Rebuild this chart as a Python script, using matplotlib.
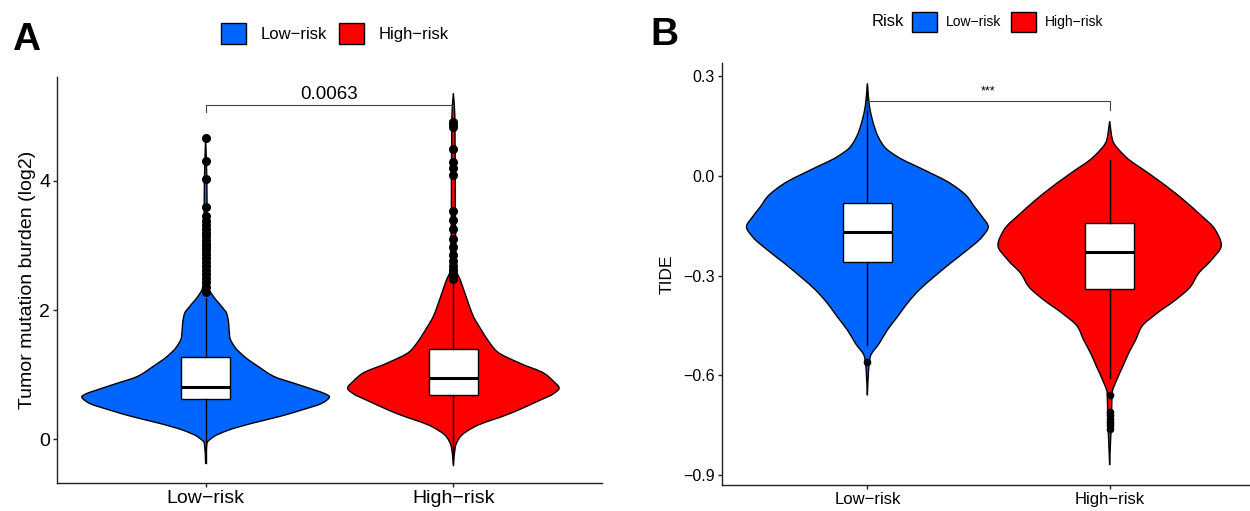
import matplotlib.pyplot as plt
from matplotlib.patches import Patch, PathPatch
from matplotlib.path import Path

plt.rcParams['font.family'] = ['Liberation Sans', 'DejaVu Sans']

groups = ['Low−risk', 'High−risk']
colors = ['#0066ff', '#ff0000']

# --- A: Tumor mutation burden ---
# violin outlines: value and half-width (category units)
tmb_low_y = [-0.377, -0.067, 0.036, 0.14, 0.243, 0.346, 0.45, 0.553, 0.60, 0.656, 0.70,
             0.76, 0.863, 0.966, 1.121, 1.276, 1.431, 1.586, 1.793, 1.948, 2.052, 2.207,
             2.336, 2.516, 3.0, 3.5, 4.0, 4.67]
tmb_low_w = [0, 0.005, 0.032, 0.093, 0.185, 0.294, 0.387, 0.468, 0.488, 0.5, 0.484,
             0.44, 0.359, 0.278, 0.214, 0.157, 0.117, 0.097, 0.093, 0.085, 0.065, 0.032,
             0.013, 0.008, 0.008, 0.006, 0.005, 0]
tmb_high_y = [-0.403, -0.12, 0.036, 0.19, 0.398, 0.605, 0.70, 0.79, 0.90, 1.018, 1.173,
              1.354, 1.5, 1.69, 1.9, 2.155, 2.465, 2.62, 3.0, 3.5, 4.0, 4.5, 5.0, 5.36]
tmb_high_w = [0, 0.008, 0.028, 0.085, 0.23, 0.351, 0.403, 0.427, 0.403, 0.367, 0.27,
              0.177, 0.145, 0.113, 0.081, 0.056, 0.028, 0.012, 0.01, 0.008, 0.008, 0.007,
              0.006, 0]
# boxes: q1, median, q3, lower whisker, upper whisker
tmb_low_box = [0.615, 0.811, 1.266, -0.37, 2.18]
tmb_high_box = [0.687, 0.95, 1.39, -0.40, 2.42]
tmb_low_out = [4.67, 4.31, 4.03, 3.60, 3.45, 3.38, 3.32, 3.25, 3.20, 3.14, 3.08, 3.03,
               2.98, 2.93, 2.87, 2.80, 2.74, 2.68, 2.62, 2.56, 2.50, 2.44, 2.36, 2.28]
tmb_high_out = [2.48, 2.55, 2.62, 2.68, 2.76, 2.86, 2.97, 3.10, 3.26, 3.39, 3.54, 4.09,
                4.20, 4.29, 4.50, 4.84, 4.88, 4.92]
tmb_ticks = [0, 2, 4]
tmb_p = '0.0063'

# --- B: TIDE ---
tide_low_y = [0.279, 0.219, 0.139, 0.088, 0.058, 0.018, -0.022, -0.062, -0.092, -0.123,
              -0.153, -0.183, -0.223, -0.263, -0.303, -0.343, -0.383, -0.424, -0.464,
              -0.504, -0.544, -0.584, -0.66]
tide_low_w = [0, 0.007, 0.033, 0.07, 0.124, 0.235, 0.342, 0.412, 0.441, 0.474, 0.499,
              0.474, 0.412, 0.342, 0.276, 0.214, 0.165, 0.124, 0.082, 0.049, 0.012, 0.005, 0]
tide_high_y = [0.164, 0.108, 0.058, 0.008, -0.052, -0.112, -0.163, -0.208, -0.253, -0.293,
               -0.333, -0.373, -0.414, -0.454, -0.494, -0.534, -0.574, -0.614, -0.655,
               -0.725, -0.795, -0.87]
tide_high_w = [0, 0.012, 0.066, 0.161, 0.272, 0.367, 0.437, 0.461, 0.42, 0.367, 0.334,
               0.272, 0.194, 0.132, 0.107, 0.078, 0.054, 0.029, 0.01, 0.008, 0.004, 0]
tide_low_box = [-0.260, -0.170, -0.080, -0.509, 0.27]
tide_high_box = [-0.339, -0.230, -0.141, -0.609, 0.048]
tide_low_out = [-0.559]
tide_high_out = [-0.66, -0.71, -0.72, -0.73, -0.74, -0.75, -0.76]
tide_ticks = [-0.9, -0.6, -0.3, 0.0, 0.3]
tide_p = '***'


def slopes(ys, ws):
    # monotone (Fritsch-Carlson) tangents so the bezier outline does not overshoot
    n = len(ys)
    h = [ys[k + 1] - ys[k] for k in range(n - 1)]
    d = [(ws[k + 1] - ws[k]) / h[k] for k in range(n - 1)]
    m = [d[0]] + [0.0] * (n - 2) + [d[-1]]
    for k in range(1, n - 1):
        if d[k - 1] * d[k] > 0:
            a = 2 * h[k] + h[k - 1]
            b = h[k] + 2 * h[k - 1]
            m[k] = (a + b) / (a / d[k - 1] + b / d[k])
    return m


def violin_patch(x, ys, ws, color):
    pts = sorted(zip(ys, ws))
    ys = [p[0] for p in pts]
    ws = [p[1] for p in pts]
    m = slopes(ys, ws)
    verts = [(x, ys[0])]
    codes = [Path.MOVETO]
    # right side, bottom to top
    for i in range(len(ys) - 1):
        h = ys[i + 1] - ys[i]
        verts += [(x + ws[i] + m[i] * h / 3, ys[i] + h / 3),
                  (x + ws[i + 1] - m[i + 1] * h / 3, ys[i + 1] - h / 3),
                  (x + ws[i + 1], ys[i + 1])]
        codes += [Path.CURVE4] * 3
    # left side, top to bottom
    for i in range(len(ys) - 2, -1, -1):
        h = ys[i + 1] - ys[i]
        verts += [(x - ws[i + 1] + m[i + 1] * h / 3, ys[i + 1] - h / 3),
                  (x - ws[i] - m[i] * h / 3, ys[i] + h / 3),
                  (x - ws[i], ys[i])]
        codes += [Path.CURVE4] * 3
    verts.append((x, ys[0]))
    codes.append(Path.CLOSEPOLY)
    return PathPatch(Path(verts, codes), facecolor=color, edgecolor='black',
                     linewidth=1.0, zorder=2)


def draw_panel(ax, profiles, boxes, outliers, msize):
    for i, (ys, ws) in enumerate(profiles):
        ax.add_patch(violin_patch(i + 1, ys, ws, colors[i]))
    stats = []
    for b, out in zip(boxes, outliers):
        stats.append(dict(q1=b[0], med=b[1], q3=b[2], whislo=b[3], whishi=b[4], fliers=out))
    ax.bxp(stats, positions=[1, 2], widths=0.2, patch_artist=True, showcaps=False,
           boxprops=dict(facecolor='white', edgecolor='black', linewidth=1.0),
           whiskerprops=dict(color='black', linewidth=1.0),
           medianprops=dict(color='black', linewidth=2.2),
           flierprops=dict(marker='o', markerfacecolor='black', markeredgecolor='black',
                           markersize=msize), zorder=3)
    for s in ['top', 'right']:
        ax.spines[s].set_visible(False)
    for s in ['left', 'bottom']:
        ax.spines[s].set_linewidth(1.0)
        ax.spines[s].set_color('#222222')
    ax.set_xlim(0.4, 2.6)
    ax.set_xticks([1, 2])
    ax.set_xticklabels(groups)
    ax.tick_params(length=3, width=1.0, color='#222222', pad=2)


fig = plt.figure(figsize=(12.5, 5.11), dpi=100)

# Panel A
axA = fig.add_axes([0.0456, 0.0548, 0.436, 0.7945])
draw_panel(axA, [(tmb_low_y, tmb_low_w), (tmb_high_y, tmb_high_w)],
           [tmb_low_box, tmb_high_box], [tmb_low_out, tmb_high_out], 5.5)
axA.set_ylim(-0.68, 5.61)
axA.set_yticks(tmb_ticks)
axA.tick_params(labelsize=14)
axA.set_ylabel('Tumor mutation burden (log2)', fontsize=14, labelpad=2)
axA.plot([1, 1, 2, 2], [5.07, 5.17, 5.17, 5.07], color='#444444', lw=0.8, zorder=4)
axA.text(1.5, 5.21, tmb_p, ha='center', va='bottom', fontsize=13.5)

# Panel B
axB = fig.add_axes([0.5776, 0.0509, 0.4264, 0.8258])
draw_panel(axB, [(tide_low_y, tide_low_w), (tide_high_y, tide_high_w)],
           [tide_low_box, tide_high_box], [tide_low_out, tide_high_out], 4.5)
axB.set_ylim(-0.93, 0.34)
axB.set_yticks(tide_ticks)
axB.set_yticklabels([f'{t:.1f}'.replace('-', '−') for t in tide_ticks])
axB.tick_params(axis='y', labelsize=11.5)
axB.tick_params(axis='x', labelsize=12)
axB.set_ylabel('TIDE', fontsize=12.5, labelpad=6)
axB.plot([1, 1, 2, 2], [0.199, 0.227, 0.227, 0.199], color='#444444', lw=0.8, zorder=4)
axB.text(1.5, 0.236, tide_p, ha='center', va='bottom', fontsize=9)

# Legends
handles = [Patch(facecolor=c, edgecolor='black', linewidth=1.0) for c in colors]
fig.legend(handles, groups, loc='center', bbox_to_anchor=(0.268, 0.935), ncol=2,
           frameon=False, fontsize=12, handlelength=1.5, handleheight=1.55,
           handletextpad=0.9, columnspacing=0.7)
fig.legend(handles, groups, loc='center', bbox_to_anchor=(0.806, 0.957), ncol=2,
           frameon=False, fontsize=10, handlelength=1.8, handleheight=1.85,
           handletextpad=0.65, columnspacing=0.7)
fig.text(904 / 1250, 0.957, 'Risk', ha='right', va='center', fontsize=12)

# Panel letters
fig.text(12 / 1250, (511 - 50) / 511, 'A', fontsize=28, fontweight='bold', va='baseline')
fig.text(650 / 1250, (511 - 45) / 511, 'B', fontsize=28, fontweight='bold', va='baseline')

fig.savefig('out.png', dpi=100)
